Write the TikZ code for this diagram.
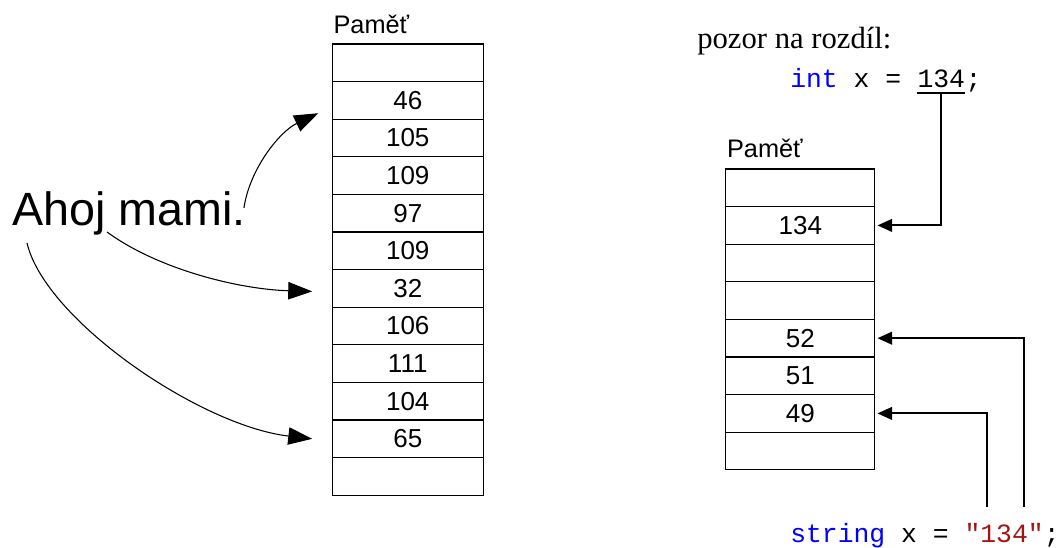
\documentclass[tikz,border=0pt]{standalone}
\usepackage{fontspec}
\setmainfont{Liberation Sans}
\setmonofont{Liberation Mono}
\newfontfamily\notefont{Liberation Serif}
\usetikzlibrary{positioning,arrows.meta,calc}
\definecolor{kwblue}{RGB}{0,0,255}
\definecolor{strred}{RGB}{163,21,21}

\begin{document}
\begin{tikzpicture}[x=0.75pt, y=-0.75pt,
        cell/.style = {draw, line width=1pt, inner sep=0pt, outer sep=0pt, minimum width=#1, minimum height=28.2pt, font=\fontsize{19.5}{22}\selectfont},
        cell/.default = 113.25pt,
        memname/.style = {anchor=base west, inner sep=0pt, font=\fontsize{19}{22}\selectfont},
        code/.style = {anchor=base west, inner sep=0pt, font=\ttfamily\fontsize{19.8}{22}\selectfont},
        pointer/.style = {-{Triangle[length=11pt, width=9.5pt]}, line width=1.5pt, shorten >=2pt},
        curvedarrow/.style = {-{Triangle[length=18pt, width=13pt]}, line width=0.8pt}]
        \useasboundingbox (0,0) rectangle (1060,547);

        % pamet vlevo
        \coordinate (lefttop) at (407.75,44);
        \foreach \val [count=\i, remember=\i as \j (initially top)] in {{},46,105,109,97,109,32,106,111,104,65,{}}
            \node[cell, below=0pt of left\j] (left\i) {\val};
        \node[memname] (leftname) at ([shift={(1,-11)}]left1.north west) {Paměť};

        \node[anchor=base west, inner sep=0pt, font=\fontsize{35}{40}\selectfont] (ahoj) at (12,225) {Ahoj mami.};

        \draw[curvedarrow] ([shift={(-2,-5)}]ahoj.east) .. controls +(6,-40) and +(-38,18) .. ([shift={(-14,-6)}]left2.south west);
        \draw[curvedarrow] ([shift={(-22,-3)}]ahoj.south) .. controls +(52,38) and +(-72,-2) .. ([shift={(-20,3)}]left7.west);
        \draw[curvedarrow] ([shift={(15,8)}]ahoj.south west) .. controls +(18,77) and +(-112,-13) .. ([shift={(-20,0)}]left11.west);

        % pamet vpravo
        \node[anchor=base west, inner sep=0pt, font=\notefont\fontsize{23}{26}\selectfont] (note) at (697,48) {pozor na rozdíl:};

        \coordinate (righttop) at (800.3,169);
        \foreach \val [count=\i, remember=\i as \j (initially top)] in {{},134,{},{},52,51,49,{}}
            \node[cell=111.75pt, below=0pt of right\j] (right\i) {\val};
        \node[memname] (rightname) at ([shift={(1,-11.5)}]right1.north west) {Paměť};

        % int x = 134;
        \node[code] (intkw) at (790,87) {\textcolor{kwblue}{int} x =};
        \node[code, right=11.88pt of intkw.base east, anchor=base west] (intval) {134};
        \node[code, right=0pt of intval.base east, anchor=base west] (intsemi) {;};
        \draw[line width=1pt] ([yshift=-4.5pt]intval.base west) -- ([yshift=-4.5pt]intval.base east);
        \coordinate (intbar) at ([yshift=-4.5pt]intval.base);
        \draw[pointer] (intbar) |- (right2.east);

        % string x = "134";
        \node[code] (strdecl) at (790,542) {\textcolor{kwblue}{string} x = \textcolor{strred}{"134"};};
        \coordinate (chone) at (987,507);
        \coordinate (chfour) at (1024,507);
        \draw[pointer] (chfour) |- (right5.east);
        \draw[pointer] (chone) |- (right7.east);
\end{tikzpicture}
\end{document}
